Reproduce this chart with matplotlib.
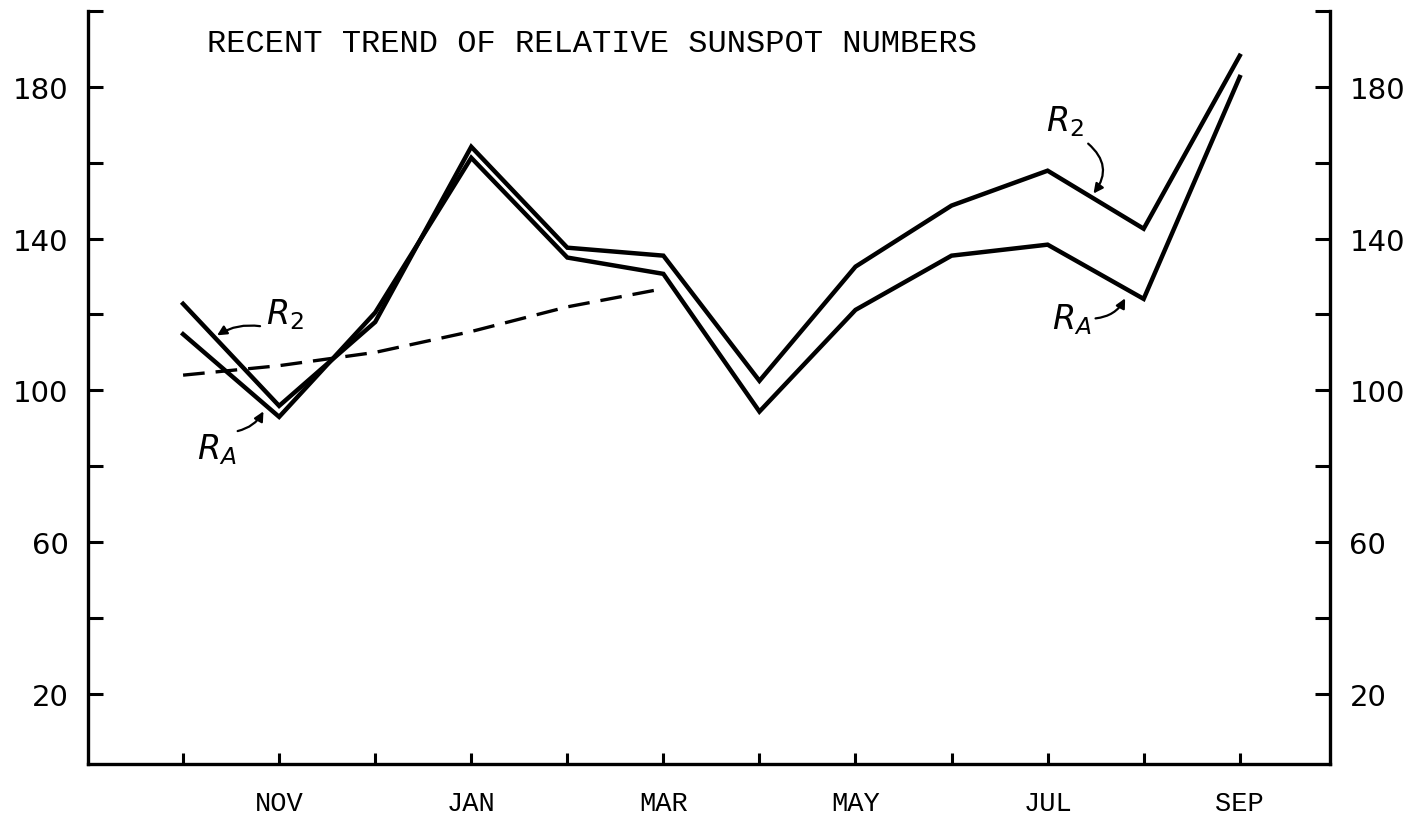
import matplotlib
matplotlib.use("Agg")
import matplotlib.pyplot as plt

months = ["OCT", "NOV", "DEC", "JAN", "FEB", "MAR", "APR", "MAY", "JUN", "JUL", "AUG", "SEP"]
shown_months = ["NOV", "JAN", "MAR", "MAY", "JUL", "SEP"]
r2 = [122.8, 95.9, 118.0, 164.2, 137.6, 135.5, 102.5, 132.6, 148.7, 157.9, 142.6, 188.2]
ra = [114.8, 93.0, 120.5, 161.3, 135.0, 130.7, 94.4, 121.2, 135.5, 138.4, 124.1, 182.6]
smoothed = [104.0, 106.5, 110.0, 115.5, 122.0, 126.8]
yticks = [20, 40, 60, 80, 100, 120, 140, 160, 180, 200]
ylabels = ["20", "", "60", "", "100", "", "140", "", "180", ""]
title = "RECENT TREND OF RELATIVE SUNSPOT NUMBERS"

fig = plt.figure(figsize=(14.19, 8.2), dpi=100)
ax = fig.add_axes([0.062, 0.0671, 0.8753, 0.9183])

x = list(range(len(months)))
ax.plot(x, r2, color="black", lw=3.2, solid_joinstyle="miter")
ax.plot(x, ra, color="black", lw=3.2, solid_joinstyle="miter")
ax.plot(x[:len(smoothed)], smoothed, color="black", lw=2.4, dashes=(6.5, 3.3))

ax.set_xlim(-0.99, 11.94)
ax.set_ylim(1.5, 200)

ax.spines["top"].set_visible(False)
for s in ["left", "right", "bottom"]:
    ax.spines[s].set_linewidth(2.4)

ax.set_xticks(x)
ax.set_xticklabels([m if m in shown_months else "" for m in months],
                   fontfamily="Liberation Mono", fontsize=19.5)
ax.set_yticks(yticks)
ax.set_yticklabels(ylabels, fontfamily="DejaVu Sans", fontsize=21)
ax.tick_params(axis="x", direction="in", length=8, width=2.2, pad=19)
ax.tick_params(axis="y", direction="in", length=11, width=2.2,
               left=True, right=True, labelleft=True, labelright=True)
for t in ax.yaxis.get_major_ticks():
    t.label2.set_fontfamily("DejaVu Sans")
    t.label2.set_fontsize(21)
    t.set_pad(14)

ax.text(0.25, 191.5, title, fontfamily="Liberation Mono", fontsize=23.1,
        ha="left", va="center")

lab_kw = dict(fontsize=24, fontstyle="italic", color="black")
arrow_kw = dict(arrowstyle="-|>", color="black", lw=1.6, mutation_scale=14)

ax.annotate("", xy=(0.33, 114.1), xytext=(0.83, 116.8),
            arrowprops=dict(connectionstyle="arc3,rad=0.2", **arrow_kw))
ax.text(1.06, 120.2, r"$R_2$", ha="center", va="center", **lab_kw)

ax.annotate("", xy=(0.85, 95.1), xytext=(0.54, 89.1),
            arrowprops=dict(connectionstyle="arc3,rad=0.25", **arrow_kw))
ax.text(0.35, 84.6, r"$R_A$", ha="center", va="center", **lab_kw)

ax.annotate("", xy=(9.46, 151.3), xytext=(9.40, 165.5),
            arrowprops=dict(connectionstyle="arc3,rad=-0.5", **arrow_kw))
ax.text(9.18, 171.0, r"$R_2$", ha="center", va="center", **lab_kw)

ax.annotate("", xy=(9.82, 124.9), xytext=(9.47, 118.9),
            arrowprops=dict(connectionstyle="arc3,rad=0.3", **arrow_kw))
ax.text(9.25, 118.9, r"$R_A$", ha="center", va="center", **lab_kw)

fig.savefig("out.png", dpi=100, facecolor="white")
